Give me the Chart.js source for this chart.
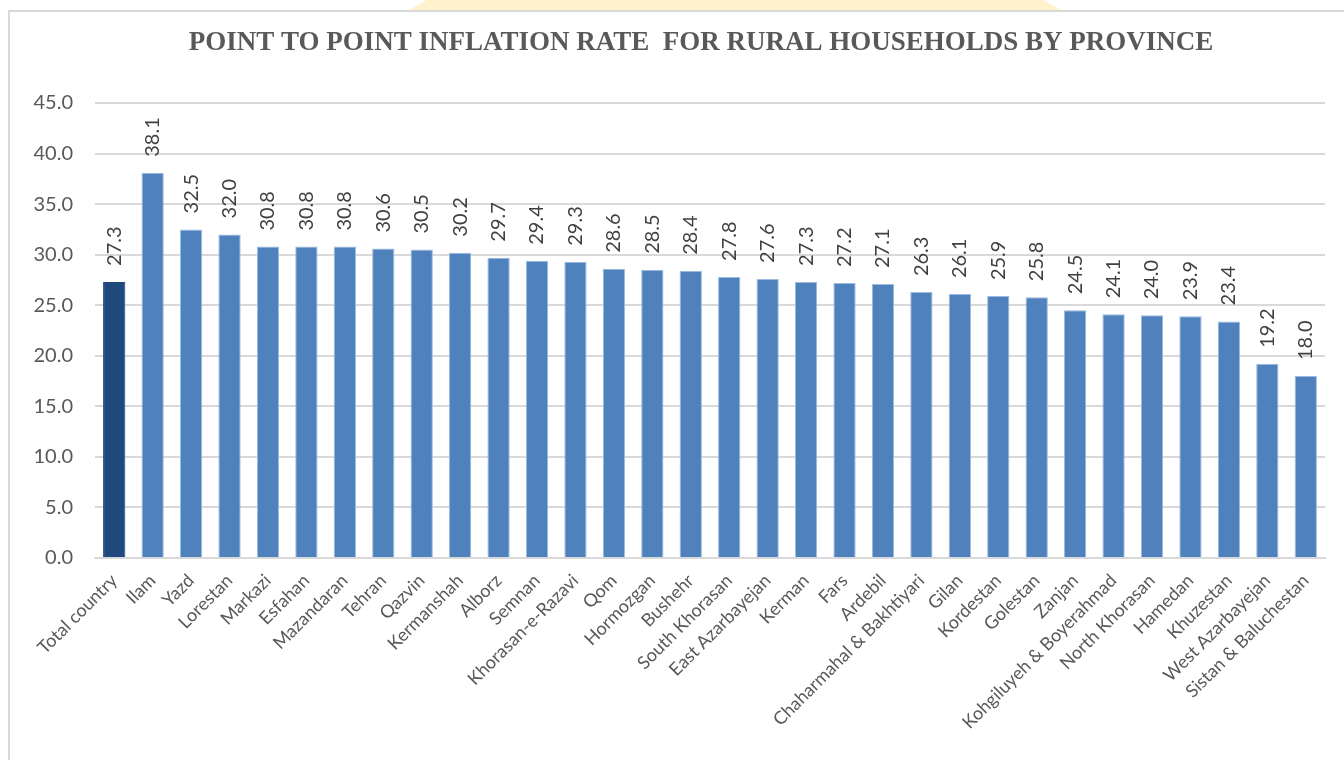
<!DOCTYPE html>
<html>
<head>
<meta charset="utf-8">
<script src="https://cdn.jsdelivr.net/npm/chart.js@4/dist/chart.umd.min.js"></script>
<style>
    html, body { margin: 0; padding: 0; background: #fff; width: 1344px; height: 760px; overflow: hidden; }
    .tab { position: absolute; left: 407px; top: 0; width: 656px; height: 11px; background: #fff2cc;
           clip-path: polygon(0 100%, 3% 0, 97% 0, 100% 100%); }
    .frame { position: absolute; left: 8px; top: 10px; width: 1400px; height: 800px; border: 2px solid #d9d9d9; box-sizing: border-box; }
    #chart { position: absolute; left: 0; top: 0; }
</style>
</head>
<body>
<div class="tab"></div>
<div class="frame"></div>
<canvas id="chart" width="1344" height="760"></canvas>
<script>

let chartTitle = 'POINT TO POINT INFLATION RATE  FOR RURAL HOUSEHOLDS BY PROVINCE';

let provinces = ['Total country', 'Ilam', 'Yazd', 'Lorestan', 'Markazi', 'Esfahan', 'Mazandaran', 'Tehran',
    'Qazvin', 'Kermanshah', 'Alborz', 'Semnan', 'Khorasan-e-Razavi', 'Qom', 'Hormozgan', 'Bushehr',
    'South Khorasan', 'East Azarbayejan', 'Kerman', 'Fars', 'Ardebil', 'Chaharmahal & Bakhtiyari', 'Gilan',
    'Kordestan', 'Golestan', 'Zanjan', 'Kohgiluyeh & Boyerahmad', 'North Khorasan', 'Hamedan', 'Khuzestan',
    'West Azarbayejan', 'Sistan & Baluchestan'];

let inflationRate = [27.3, 38.1, 32.5, 32.0, 30.8, 30.8, 30.8, 30.6, 30.5, 30.2, 29.7, 29.4, 29.3, 28.6,
    28.5, 28.4, 27.8, 27.6, 27.3, 27.2, 27.1, 26.3, 26.1, 25.9, 25.8, 24.5, 24.1, 24.0, 23.9, 23.4, 19.2, 18.0];

let yTicks = [0, 5, 10, 15, 20, 25, 30, 35, 40, 45];


// title centred on the frame, not on the plot
const frameTitle = {
    id: 'frameTitle',
    afterDraw(chart) {
        let ctx = chart.ctx;
        ctx.save();
        ctx.font = 'bold 27px "Liberation Serif"';
        ctx.fillStyle = '#595959';
        ctx.textAlign = 'center';
        ctx.textBaseline = 'middle';
        ctx.fillText(chartTitle, 701, 43);
        ctx.restore();
    }
};

// value labels written vertically above each bar
const barValueLabels = {
    id: 'barValueLabels',
    afterDatasetsDraw(chart) {
        let ctx = chart.ctx;
        let meta = chart.getDatasetMeta(0);
        ctx.save();
        ctx.font = '20px Lato';
        ctx.fillStyle = '#404040';
        ctx.textAlign = 'left';
        ctx.textBaseline = 'middle';
        meta.data.forEach((bar, i) => {
            ctx.save();
            ctx.translate(bar.x, bar.y - 16);
            ctx.rotate(-Math.PI / 2);
            ctx.fillText(inflationRate[i].toFixed(1), 0, 0);
            ctx.restore();
        });
        ctx.restore();
    }
};


function displayInflationChart() {
    let ctx = document.querySelector('#chart').getContext('2d');
    new Chart(ctx, {
        type: 'bar',
        data: {
            labels: provinces,
            datasets: [{
                label: 'Inflation rate',
                data: inflationRate,
                backgroundColor: inflationRate.map((v, i) => i === 0 ? '#1f497d' : '#4f81bd'),
                borderColor: inflationRate.map((v, i) => i === 0 ? '#1f497d' : '#9bbbe0'),
                borderWidth: 1,
                categoryPercentage: 1,
                barPercentage: 0.58
            }]
        },
        options: {
            responsive: false,
            animation: false,
            layout: { padding: { left: 10, right: 19, top: 103, bottom: 0 } },
            plugins: {
                legend: { display: false },
                tooltip: { enabled: false },
                title: { display: false }
            },
            scales: {
                x: {
                    grid: { display: false },
                    border: { color: '#d9d9d9', width: 2 },
                    ticks: {
                        color: '#595959',
                        font: { family: 'Lato', size: 18 },
                        minRotation: 45,
                        maxRotation: 45,
                        autoSkip: false,
                        padding: 4
                    },
                    afterFit(scale) { scale.height = 202; }
                },
                y: {
                    min: 0,
                    max: 45,
                    afterBuildTicks(scale) { scale.ticks = yTicks.map(v => ({ value: v })); },
                    grid: { color: '#d9d9d9', lineWidth: 2, drawTicks: false },
                    border: { display: false },
                    ticks: {
                        color: '#595959',
                        font: { family: 'Lato', size: 20 },
                        padding: 22,
                        callback: v => v.toFixed(1)
                    },
                    afterFit(scale) { scale.width = 85; }
                }
            }
        },
        plugins: [barValueLabels, frameTitle]
    });
}
displayInflationChart();

</script>
</body>
</html>
